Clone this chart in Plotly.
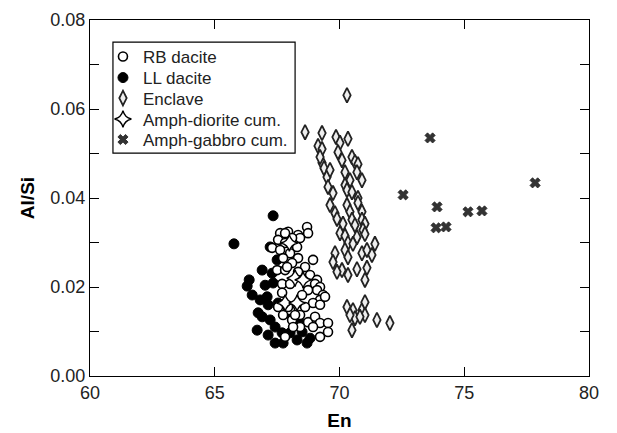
import plotly.graph_objects as go

# Pyroxene compositions: En (mol%) vs Al/Si
rb_en = [67.62, 67.94, 68.34, 68.70, 68.74, 68.42, 68.10, 67.82, 67.54, 67.82,
         67.30, 67.62, 68.02, 68.30, 67.74, 68.34, 68.10, 68.94, 68.62, 67.50,
         67.82, 68.34, 68.82, 69.10, 69.02, 67.70, 68.02, 67.90, 69.22, 69.10,
         68.74, 68.50, 67.70, 69.34, 69.22, 68.94, 68.62, 69.22, 68.02, 67.54,
         67.94, 68.42, 67.74, 68.10, 68.74, 69.02, 69.22, 69.54, 68.94, 68.42,
         69.22, 69.54, 69.42, 68.22, 67.82, 68.14]
rb_alsi = [0.0321, 0.0324, 0.0317, 0.0335, 0.0321, 0.0310, 0.0310, 0.0321, 0.0306, 0.0299,
           0.0288, 0.0283, 0.0276, 0.0290, 0.0265, 0.0265, 0.0254, 0.0261, 0.0245, 0.0238,
           0.0238, 0.0234, 0.0227, 0.0216, 0.0207, 0.0207, 0.0207, 0.0245, 0.0200, 0.0193,
           0.0193, 0.0182, 0.0187, 0.0182, 0.0171, 0.0164, 0.0155, 0.0160, 0.0148, 0.0155,
           0.0155, 0.0137, 0.0137, 0.0126, 0.0121, 0.0133, 0.0119, 0.0119, 0.0110, 0.0110,
           0.0088, 0.0099, 0.0178, 0.0137, 0.0088, 0.0110]

ll_en = [67.34, 65.77, 66.38, 66.30, 66.50, 66.74, 66.90, 67.10, 67.14, 67.22,
         67.42, 67.70, 67.42, 67.74, 68.02, 68.30, 68.50, 68.70, 68.82, 67.30,
         67.34, 67.50, 67.22, 67.54, 67.90, 68.14, 68.42, 66.90, 67.02, 66.70,
         67.14, 66.82]
ll_alsi = [0.0360, 0.0297, 0.0216, 0.0202, 0.0182, 0.0142, 0.0133, 0.0178, 0.0160, 0.0126,
           0.0110, 0.0097, 0.0074, 0.0074, 0.0097, 0.0081, 0.0099, 0.0074, 0.0085, 0.0231,
           0.0209, 0.0261, 0.0290, 0.0164, 0.0142, 0.0126, 0.0119, 0.0238, 0.0204, 0.0103,
           0.0092, 0.0171]

enc_en = [70.30, 68.62, 69.30, 69.86, 70.34, 69.14, 69.30, 70.02, 69.94, 70.50,
          70.10, 70.62, 69.30, 69.38, 70.74, 70.22, 69.50, 70.70, 70.90, 70.42,
          69.54, 70.22, 69.74, 70.30, 70.50, 70.74, 69.62, 70.30, 70.74, 69.82,
          70.42, 70.90, 69.90, 70.50, 70.90, 70.14, 70.62, 71.02, 70.94, 70.02,
          70.22, 70.70, 71.02, 70.34, 70.54, 71.42, 69.82, 70.22, 70.90, 71.10,
          71.30, 69.74, 70.34, 70.10, 69.90, 70.34, 70.70, 71.10, 71.02, 70.30,
          70.54, 70.90, 71.02, 70.62, 71.02, 71.50, 72.02, 70.50, 70.42, 70.82,
          69.22, 69.62]
enc_alsi = [0.0631, 0.0548, 0.0546, 0.0537, 0.0533, 0.0517, 0.0510, 0.0524, 0.0503, 0.0492,
            0.0485, 0.0481, 0.0479, 0.0467, 0.0476, 0.0458, 0.0447, 0.0458, 0.0440, 0.0440,
            0.0425, 0.0429, 0.0411, 0.0418, 0.0413, 0.0400, 0.0384, 0.0384, 0.0389, 0.0366,
            0.0369, 0.0369, 0.0353, 0.0351, 0.0351, 0.0342, 0.0339, 0.0342, 0.0328, 0.0321,
            0.0315, 0.0312, 0.0319, 0.0299, 0.0297, 0.0297, 0.0276, 0.0283, 0.0276, 0.0283,
            0.0272, 0.0256, 0.0267, 0.0238, 0.0234, 0.0227, 0.0240, 0.0243, 0.0216, 0.0155,
            0.0148, 0.0148, 0.0166, 0.0130, 0.0137, 0.0126, 0.0119, 0.0103, 0.0137, 0.0133,
            0.0492, 0.0463]

dio_en = [67.99, 68.22, 68.54, 67.82, 68.30]
dio_alsi = [0.0299, 0.0220, 0.0216, 0.0164, 0.0164]

gab_en = [73.63, 72.55, 73.91, 75.15, 75.71, 73.87, 74.27, 77.84]
gab_alsi = [0.0535, 0.0407, 0.0380, 0.0369, 0.0371, 0.0333, 0.0335, 0.0434]

FONT = "Liberation Sans, Arial, sans-serif"

fig = go.Figure()

fig.add_trace(go.Scatter(
    x=ll_en, y=ll_alsi, mode="markers", name="LL dacite", legend="legend2",
    marker=dict(symbol="circle", size=10, color="black",
                line=dict(color="black", width=1))))
fig.add_trace(go.Scatter(
    x=rb_en, y=rb_alsi, mode="markers", name="RB dacite", legend="legend",
    marker=dict(symbol="circle", size=9, color="white",
                line=dict(color="black", width=1.6))))
fig.add_trace(go.Scatter(
    x=enc_en, y=enc_alsi, mode="markers", name="Enclave", legend="legend3",
    marker=dict(symbol="diamond-tall", size=10.5, color="#eeeeee",
                line=dict(color="#222222", width=1.8))))
fig.add_trace(go.Scatter(
    x=dio_en, y=dio_alsi, mode="markers", name="Amph-diorite cum.", legend="legend4",
    marker=dict(symbol="star-diamond", size=12, color="white",
                line=dict(color="black", width=1.4))))
fig.add_trace(go.Scatter(
    x=gab_en, y=gab_alsi, mode="markers", name="Amph-gabbro cum.", legend="legend5",
    marker=dict(symbol="x", size=9, color="#333333",
                line=dict(color="#222222", width=0.8))))

axis_common = dict(
    showline=True, linecolor="black", linewidth=1, mirror="ticks",
    ticks="inside", ticklen=9, tickwidth=1, tickcolor="black",
    showgrid=False, zeroline=False, automargin=False,
    tickfont=dict(family=FONT, size=18, color="#222222"),
)

fig.update_xaxes(range=[60, 80], dtick=5, tick0=60,
                 title=dict(text="<b>En</b>", font=dict(family=FONT, size=19, color="black"),
                            standoff=12),
                 **axis_common)
fig.update_yaxes(range=[0, 0.08], dtick=0.02, tick0=0, tickformat=".2f",
                 minor=dict(dtick=0.01, ticks="inside", ticklen=9, tickcolor="black"),
                 title=dict(text="<b>Al/Si</b>", font=dict(family=FONT, size=19, color="black"),
                            standoff=10),
                 **axis_common)

# legend frame
fig.add_shape(type="rect", xref="paper", yref="paper",
              x0=0.046, x1=0.411, y0=0.626, y1=0.938,
              line=dict(color="black", width=1.2), fillcolor="rgba(0,0,0,0)")

# one single-entry legend per series, stacked inside the frame
legend_rows = {"legend": 0.896, "legend2": 0.837, "legend3": 0.7795,
               "legend4": 0.7205, "legend5": 0.663}
legend_style = dict(x=0.026, xanchor="left", yanchor="middle",
                    bgcolor="rgba(0,0,0,0)", borderwidth=0,
                    font=dict(family=FONT, size=17, color="#222222"))

fig.update_layout(
    width=617, height=433,
    margin=dict(l=90, r=28, t=20, b=57),
    paper_bgcolor="white", plot_bgcolor="white",
    font=dict(family=FONT, color="black"),
    showlegend=True,
    **{name: dict(y=yv, **legend_style) for name, yv in legend_rows.items()},
)

fig.write_html("out.html")
